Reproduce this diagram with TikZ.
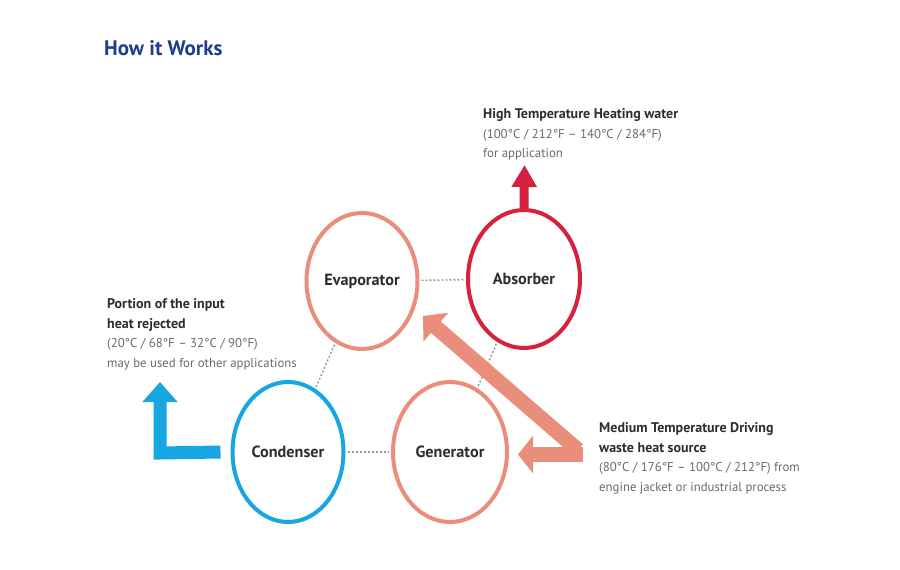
\documentclass[tikz,border=0pt]{standalone}
\usepackage{fontspec}
\setmainfont{PT Sans}
\usetikzlibrary{shapes.geometric,arrows.meta}
\definecolor{titleblue}{RGB}{32,60,140}
\definecolor{salmonC}{RGB}{232,142,122}
\definecolor{redC}{RGB}{214,32,62}
\definecolor{blueC}{RGB}{22,166,226}
\definecolor{txtdark}{RGB}{45,45,45}
\definecolor{txtgray}{RGB}{105,105,105}
\definecolor{dotgray}{RGB}{150,150,150}
\tikzset{
  unit/.style={ellipse, line width=4pt, inner sep=0pt, text=txtdark,
    font=\fontsize{16.2}{19}\selectfont\bfseries},
  dotline/.style={draw=dotgray, line width=1.4pt, dash pattern=on 2pt off 2pt, shorten <=2pt, shorten >=2pt},
  note/.style={anchor=north west, align=left, inner sep=0pt, text=txtgray,
    font=\fontsize{12.8}{19.5}\selectfont}
}
\newcommand{\hdline}[1]{{\color{txtdark}\fontsize{14}{19.5}\selectfont\bfseries #1}}
\begin{document}
\begin{tikzpicture}[x=1pt,y=-1pt]
\useasboundingbox (0,0) rectangle (900,570);
\node[anchor=base west, inner sep=0pt, text=titleblue, font=\fontsize{21}{24}\selectfont\bfseries] (title) at (104,55) {How it Works};

\node[unit, draw=salmonC, minimum width=111pt, minimum height=136pt] (evap) at (362,281) {Evaporator};
\node[unit, draw=redC, minimum width=112pt, minimum height=138pt] (abs) at (524,279) {Absorber};
\node[unit, draw=blueC, minimum width=111pt, minimum height=140pt] (cond) at (288,452) {Condenser};
\node[unit, draw=salmonC, minimum width=114pt, minimum height=140pt] (gen) at (450,452) {Generator};

\draw[dotline] (evap) -- (abs);
\draw[dotline] (cond) -- (gen);
\draw[dotline] (evap) -- (cond);
\draw[dotline] (abs) -- (gen);

% red output arrow
\coordinate (redtip) at (524.5,165);
\draw[redC, line width=9pt, -{Triangle[width=24pt,length=22pt]}] (abs.north) -- (redtip);

% blue L arrow
\coordinate (bluecorner) at (160,453);
\coordinate (bluetip) at (160,382);
\draw[blueC, line width=13pt, line join=miter, -{Triangle[width=34pt,length=20pt]}] ([xshift=-10pt]cond.west) -- (bluecorner) -- (bluetip);

% salmon driving arrows
\coordinate (sright) at (583,454.5);
\coordinate (dstart) at (578,450);
\coordinate (diagtip) at (423,316);
\draw[salmonC, line width=15pt, -{Triangle[width=37pt,length=17pt]}] (dstart) -- (diagtip);
\draw[salmonC, line width=15pt, -{Triangle[width=37pt,length=15pt]}] (sright) -- ([xshift=9pt,yshift=-2.5pt]gen.east);

% notes
\node[note] (hi) at (483,108.5) {\hdline{High Temperature Heating water}\\(100°C / 212°F – 140°C / 284°F)\\for application};
\node[note] (rej) at (107,298.5) {\hdline{Portion of the input}\\\hdline{heat rejected}\\(20°C / 68°F – 32°C / 90°F)\\may be used for other applications};
\node[note] (drv) at (599,422.5) {\hdline{Medium Temperature Driving}\\\hdline{waste heat source}\\(80°C / 176°F – 100°C / 212°F) from\\engine jacket or industrial process};
\end{tikzpicture}
\end{document}
